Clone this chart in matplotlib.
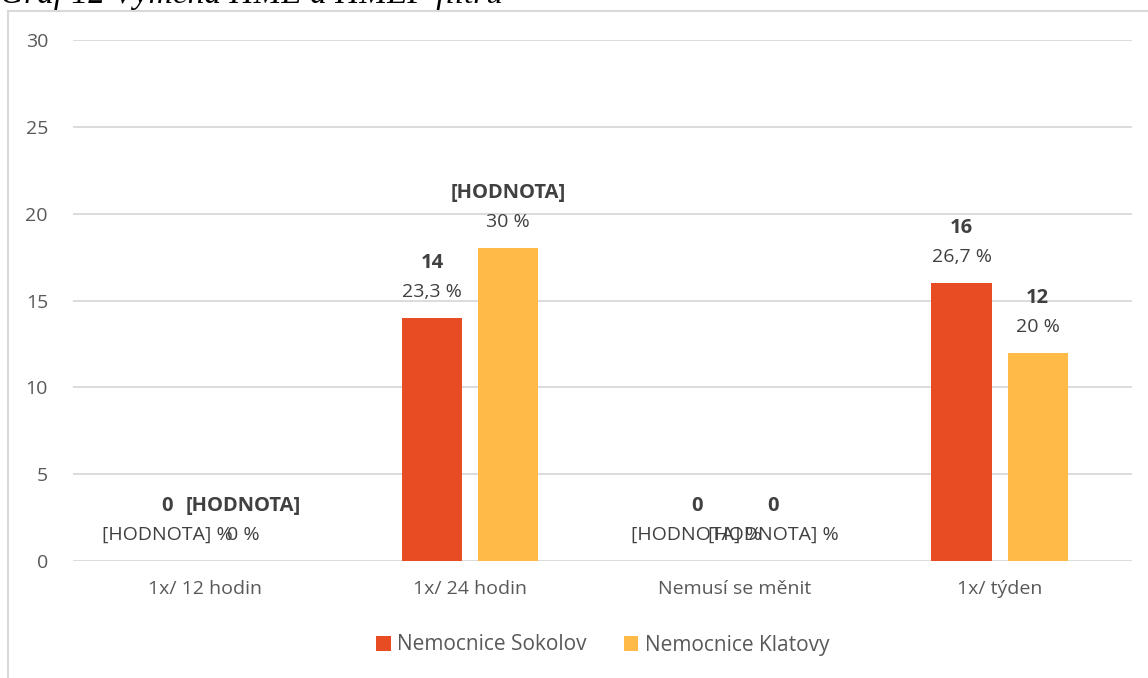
import matplotlib.pyplot as plt
import numpy as np
from matplotlib.patches import Rectangle

categories = ["1x/ 12 hodin", "1x/ 24 hodin", "Nemusí se měnit", "1x/ týden"]
series_names = ["Nemocnice Sokolov", "Nemocnice Klatovy"]
sokolov = [0, 14, 0, 16]
klatovy = [0, 18, 0, 12]
sokolov_top = ["0", "14", "0", "16"]
sokolov_pct = ["[HODNOTA] %", "23,3 %", "[HODNOTA] %", "26,7 %"]
klatovy_top = ["[HODNOTA]", "[HODNOTA]", "0", "12"]
klatovy_pct = ["0 %", "30 %", "[HODNOTA] %", "20 %"]
yticks = [0, 5, 10, 15, 20, 25, 30]

colors = ["#E84C22", "#FFBA47"]
text_color = "#595959"
label_color = "#404040"
grid_color = "#D9D9D9"

plt.rcParams["font.family"] = ["Open Sans", "DejaVu Sans"]

W, H = 1148, 678
fig = plt.figure(figsize=(W / 100, H / 100), dpi=100)

# outer chart frame (left and top edges only visible)
fig.add_artist(Rectangle((8 / W, -0.01), 1.2, 1 - 11 / H + 0.01, transform=fig.transFigure,
                         fill=False, edgecolor="#D9D9D9", linewidth=1.5))

fig.text(0.0, 1 - 3 / H, "Graf 12 Výměna HME a HMEF filtru", family="Liberation Serif",
         style="italic", fontsize=24, va="baseline", ha="left", color="black")

ax = fig.add_axes([73 / W, 1 - 561 / H, (1132 - 73) / W, (561 - 40) / H])

x = np.arange(len(categories))
width = 0.227
offset = 0.144

ax.bar(x - offset, sokolov, width, color=colors[0], label=series_names[0], zorder=3)
ax.bar(x + offset, klatovy, width, color=colors[1], label=series_names[1], zorder=3)

for i in range(len(categories)):
    for xpos, val, top, pct in [(x[i] - offset, sokolov[i], sokolov_top[i], sokolov_pct[i]),
                                (x[i] + offset, klatovy[i], klatovy_top[i], klatovy_pct[i])]:
        ax.annotate(pct, (xpos, val), xytext=(0, 26), textcoords="offset pixels",
                    ha="center", va="center", fontsize=14, color=label_color, zorder=4)
        ax.annotate(top, (xpos, val), xytext=(0, 55), textcoords="offset pixels",
                    ha="center", va="center", fontsize=14.5, fontweight="bold",
                    color=label_color, zorder=4)

ax.set_xlim(-0.5, 3.5)
ax.set_ylim(0, 30)
ax.set_yticks(yticks)
ax.set_xticks(x)
ax.set_xticklabels(categories)
ax.yaxis.grid(True, color=grid_color, linewidth=1.3, zorder=0)
ax.set_axisbelow(True)
for s in ["top", "right", "left", "bottom"]:
    ax.spines[s].set_visible(False)
ax.tick_params(axis="both", length=0, labelsize=14, colors=text_color)
ax.tick_params(axis="y", pad=18)
ax.tick_params(axis="x", pad=14)

ax.legend(loc="center", bbox_to_anchor=(0.5, -(645 - 561) / (561 - 40)),
          ncol=2, frameon=False, fontsize=15, labelcolor=text_color,
          handlelength=0.7, handleheight=0.7, handletextpad=0.3, columnspacing=1.8)

fig.savefig("out.png", dpi=100)
